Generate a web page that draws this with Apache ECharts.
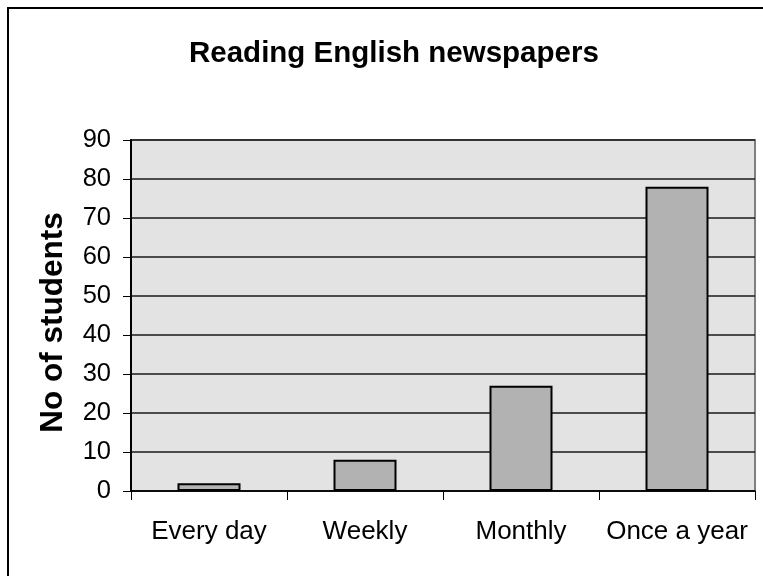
<!DOCTYPE html>
<html>
<head>
<meta charset="utf-8">
<script src="https://cdn.jsdelivr.net/npm/echarts@6/dist/echarts.min.js"></script>
<style>
html,body{margin:0;padding:0;background:#fff;}
#chart{width:763px;height:576px;}
</style>
</head>
<body>
<div id="chart"></div>
<script>
const categories = ['Every day', 'Weekly', 'Monthly', 'Once a year'];
const studentCounts = [2, 8, 27, 78];
const yTicks = [0, 10, 20, 30, 40, 50, 60, 70, 80, 90];

const chart = echarts.init(document.getElementById('chart'));
const font = '"Liberation Sans", Arial, sans-serif';
chart.setOption({
  animation: false,
  backgroundColor: '#ffffff',
  title: {
    text: 'Reading English newspapers',
    left: 184,
    top: 34,
    textStyle: { fontFamily: font, fontSize: 29.5, fontWeight: 'bold', color: '#000' }
  },
  graphic: [{
    type: 'rect',
    shape: { x: 8, y: 8, width: 800, height: 620 },
    style: { fill: 'none', stroke: '#000', lineWidth: 2 },
    silent: true
  }],
  grid: {
    left: 131, right: 8, top: 140, bottom: 85,
    show: true, backgroundColor: '#E3E3E3', borderColor: '#808080', borderWidth: 2
  },
  xAxis: {
    type: 'category',
    data: categories,
    axisLine: { lineStyle: { color: '#000', width: 1.5 } },
    axisTick: { show: true, interval: 0, length: 9, lineStyle: { color: '#000', width: 1 } },
    axisLabel: { interval: 0, fontFamily: font, fontSize: 26, color: '#000', margin: 28 },
    splitLine: { show: false }
  },
  yAxis: {
    type: 'value',
    min: yTicks[0], max: yTicks[yTicks.length - 1], interval: 10,
    name: 'No of students',
    nameLocation: 'middle',
    nameGap: 62,
    nameTextStyle: { fontFamily: font, fontSize: 31.5, fontWeight: 'bold', color: '#000', padding: [0, 0, 0, -14] },
    axisLine: { show: true, lineStyle: { color: '#000', width: 2 } },
    axisTick: { show: true, length: 8, lineStyle: { color: '#000', width: 1 } },
    axisLabel: { fontFamily: font, fontSize: 25.5, color: '#000', margin: 20 },
    splitLine: { show: true, lineStyle: { color: '#1a1a1a', width: 1.5 } }
  },
  series: [{
    type: 'bar',
    data: studentCounts,
    barWidth: 63,
    itemStyle: { color: '#B2B2B2', borderColor: '#000', borderWidth: 2 }
  }]
});
</script>
</body>
</html>
